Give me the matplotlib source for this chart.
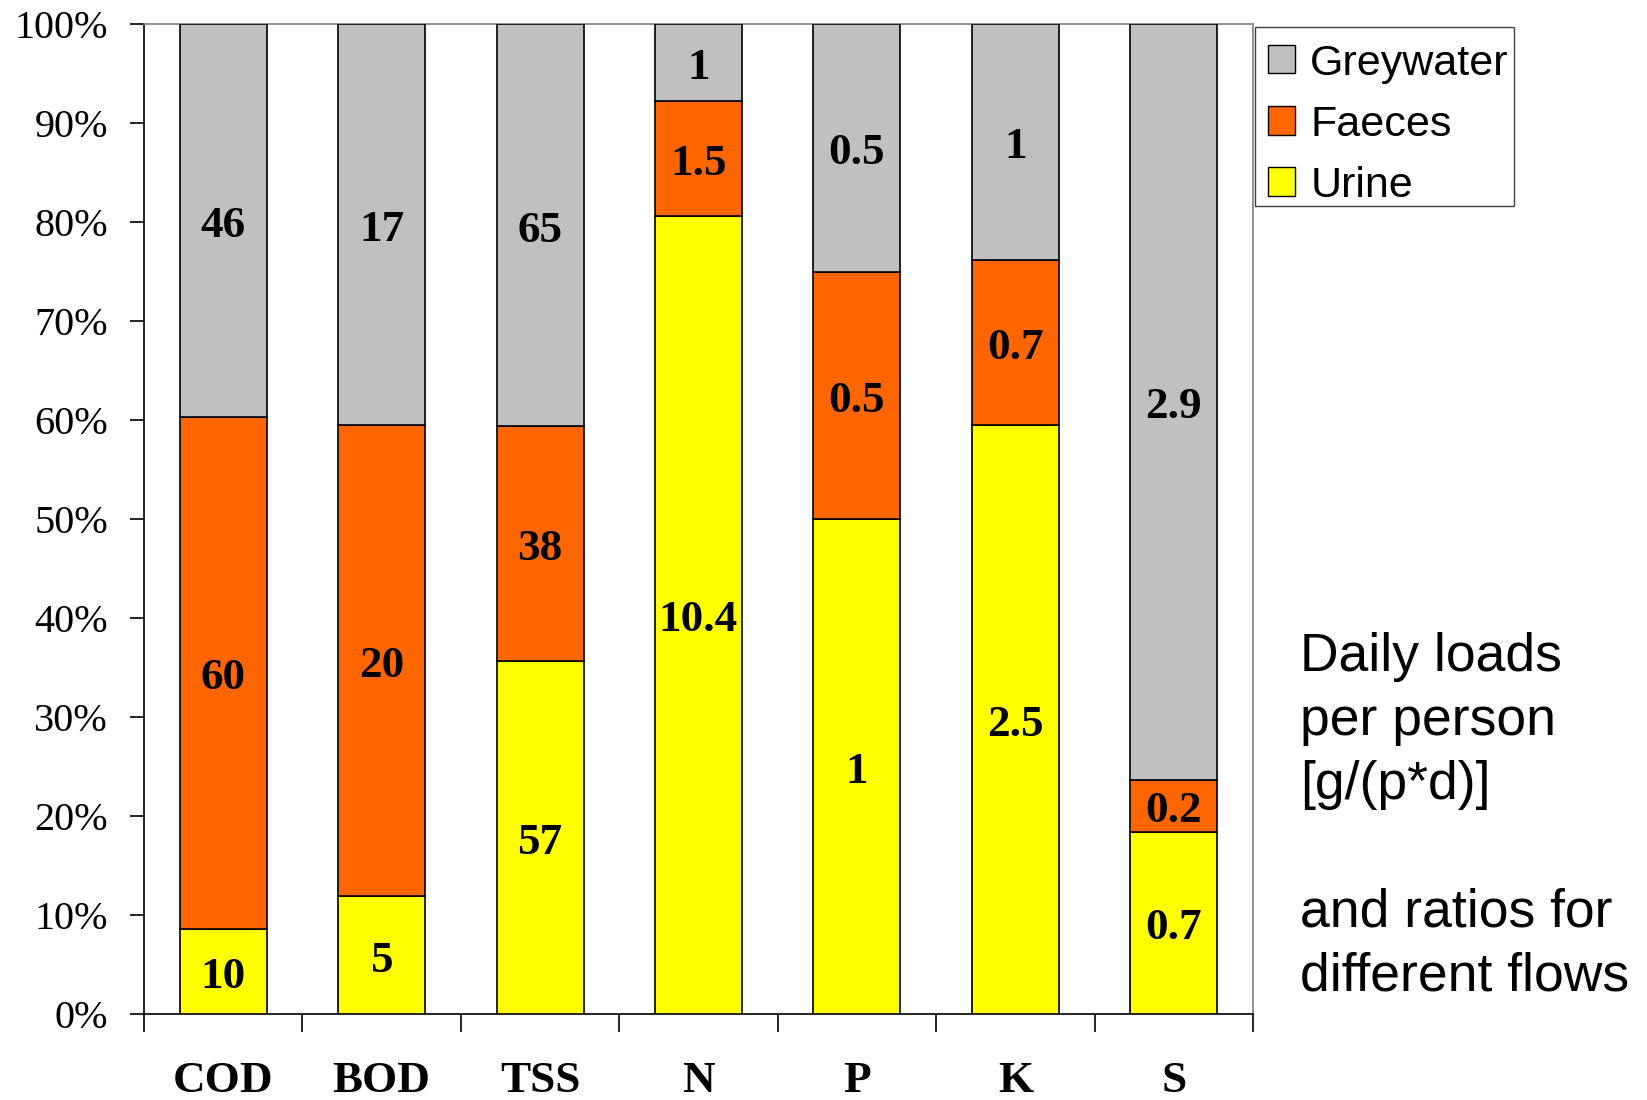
import matplotlib
matplotlib.use("Agg")
import matplotlib.pyplot as plt
import numpy as np
from matplotlib.patches import Patch, Rectangle

# Daily loads per person [g/(p*d)]
categories = ["COD", "BOD", "TSS", "N", "P", "K", "S"]
urine = [10, 5, 57, 10.4, 1, 2.5, 0.7]
faeces = [60, 20, 38, 1.5, 0.5, 0.7, 0.2]
greywater = [46, 17, 65, 1, 0.5, 1, 2.9]
urine_lbl = ["10", "5", "57", "10.4", "1", "2.5", "0.7"]
faeces_lbl = ["60", "20", "38", "1.5", "0.5", "0.7", "0.2"]
grey_lbl = ["46", "17", "65", "1", "0.5", "1", "2.9"]
y_ticks = [0, 10, 20, 30, 40, 50, 60, 70, 80, 90, 100]

c_grey, c_faec, c_urine = "#C0C0C0", "#FF6600", "#FFFF00"
serif = "Liberation Serif"
sans = "Liberation Sans"

W, H = 1647, 1100
fig = plt.figure(figsize=(W / 100, H / 100), dpi=100)
ax = fig.add_axes([144 / W, 1 - 1014 / H, (1253 - 144) / W, (1014 - 24) / H])

u = np.array(urine, float)
f = np.array(faeces, float)
g = np.array(greywater, float)
tot = u + f + g
up, fp, gp = 100 * u / tot, 100 * f / tot, 100 * g / tot
x = np.arange(len(categories))
bw = 0.55
kw = dict(width=bw, edgecolor="black", linewidth=1.2, zorder=3)
ax.bar(x, up, color=c_urine, **kw)
ax.bar(x, fp, bottom=up, color=c_faec, **kw)
ax.bar(x, gp, bottom=up + fp, color=c_grey, **kw)

tk = dict(ha="center", va="center", fontfamily=serif, fontweight="bold",
          fontsize=32.5, color="black", zorder=4,
          textcoords="offset points", xytext=(0, -4))
for i in range(len(categories)):
    ax.annotate(urine_lbl[i], (x[i], up[i] / 2), **tk)
    ax.annotate(faeces_lbl[i], (x[i], up[i] + fp[i] / 2), **tk)
    ax.annotate(grey_lbl[i], (x[i], up[i] + fp[i] + gp[i] / 2), **tk)

ax.set_xlim(-0.5, len(categories) - 0.5)
ax.set_ylim(0, 100)
ax.set_yticks(y_ticks)
ax.set_yticklabels([f"{v}%" for v in y_ticks], fontfamily=serif, fontsize=29)
ax.tick_params(axis="y", direction="out", length=10, width=1.2, pad=16)

# category ticks sit at the slot boundaries, labels at the slot centres
ax.set_xticks(np.arange(len(categories) + 1) - 0.5)
ax.set_xticklabels([])
ax.set_xticks(x, minor=True)
ax.set_xticklabels(categories, minor=True, fontfamily=serif,
                   fontweight="bold", fontsize=32.5)
ax.tick_params(axis="x", which="major", direction="out", length=13, width=1.2)
ax.tick_params(axis="x", which="minor", length=0, pad=34)

for side in ("left", "bottom"):
    ax.spines[side].set_color("black")
    ax.spines[side].set_linewidth(1.2)
for side in ("top", "right"):
    ax.spines[side].set_color("#808080")
    ax.spines[side].set_linewidth(1.2)

# legend entries without their own frame; a plain box is drawn around them
handles = [Patch(facecolor=c_grey, edgecolor="black", label="Greywater"),
           Patch(facecolor=c_faec, edgecolor="black", label="Faeces"),
           Patch(facecolor=c_urine, edgecolor="black", label="Urine")]
fig.legend(handles=handles, loc="upper left",
           bbox_to_anchor=(1268 / W, 1 - 43.5 / H),
           prop={"family": sans, "size": 31}, frameon=False, borderpad=0,
           handlelength=0.63, handleheight=0.63, handletextpad=0.35,
           labelspacing=0.49, borderaxespad=0)
fig.patches.append(Rectangle((1255 / W, 1 - 206 / H), (1514 - 1255) / W,
                             (206 - 27) / H, transform=fig.transFigure,
                             facecolor="none", edgecolor="#404040",
                             linewidth=1.0))

fig.text(1300 / W, 1 - 632 / H,
         "Daily loads\nper person\n[g/(p*d)]\n\nand ratios for\ndifferent flows",
         fontfamily=sans, fontsize=38.5, ha="left", va="top", linespacing=1.355)

fig.savefig("out.png", dpi=100, facecolor="white")
